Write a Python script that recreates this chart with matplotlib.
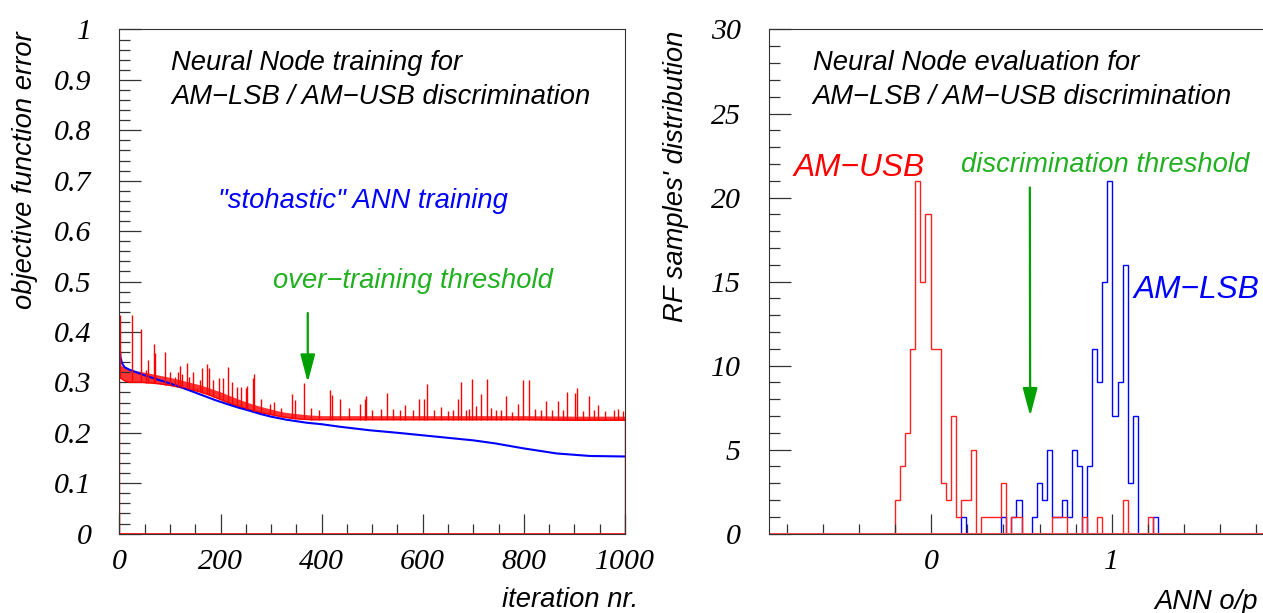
import numpy as np
import matplotlib
matplotlib.use("Agg")
import matplotlib.pyplot as plt
from matplotlib.ticker import MultipleLocator, FormatStrFormatter

# ---- left panel: objective function error vs. iteration ----
blue_iter = [0, 2, 5, 10, 20, 31, 50, 77, 100, 136, 160, 189, 210, 235, 260, 280,
             300, 330, 370, 400, 436, 495, 550, 600, 650, 700, 743, 800, 865, 931, 1000]
blue_err = [0.377, 0.35, 0.338, 0.33, 0.325, 0.321, 0.314, 0.305, 0.298, 0.285, 0.276,
            0.265, 0.258, 0.25, 0.243, 0.237, 0.232, 0.226, 0.22, 0.217, 0.212, 0.205,
            0.2, 0.195, 0.19, 0.185, 0.179, 0.169, 0.159, 0.154, 0.153]

# lower edge and top of the dense noise band of the red (validation) curve
red_iter = [0, 10, 20, 40, 60, 80, 100, 120, 140, 160, 180, 200, 220, 240, 260, 280,
            300, 320, 340, 360, 380, 400, 500, 600, 700, 800, 900, 1000]
red_low = [0.31, 0.303, 0.30, 0.30, 0.299, 0.297, 0.294, 0.29, 0.286, 0.281, 0.274,
           0.266, 0.258, 0.251, 0.245, 0.24, 0.236, 0.232, 0.229, 0.227, 0.226, 0.226,
           0.226, 0.226, 0.226, 0.226, 0.225, 0.225]
red_band = [0.335, 0.33, 0.325, 0.322, 0.318, 0.314, 0.31, 0.305, 0.3, 0.295, 0.288,
            0.281, 0.273, 0.265, 0.258, 0.252, 0.247, 0.242, 0.239, 0.237, 0.235, 0.234,
            0.234, 0.234, 0.234, 0.234, 0.233, 0.233]

# spikes of the red curve
spike_iter = [1, 25, 42, 52, 57, 68, 71, 91, 100, 110, 116, 119, 124, 133, 137, 145,
              153, 159, 164, 174, 177, 186, 197, 205, 214, 222, 233, 240, 250, 252, 265,
              267, 280, 298, 306, 320, 341, 348, 365, 378, 395, 416, 421, 437, 455, 475,
              485, 487, 500, 517, 529, 541, 555, 565, 580, 593, 603, 609, 622, 636, 650,
              660, 670, 676, 685, 692, 698, 706, 716, 728, 735, 745, 754, 764, 776, 789,
              799, 811, 823, 833, 843, 855, 868, 878, 886, 902, 906, 917, 929, 938, 947,
              960, 978, 987, 997]
spike_top = [0.434, 0.434, 0.405, 0.325, 0.344, 0.377, 0.358, 0.36, 0.321, 0.311, 0.321,
             0.333, 0.316, 0.338, 0.311, 0.32, 0.288, 0.305, 0.328, 0.336, 0.328, 0.305,
             0.308, 0.308, 0.33, 0.30, 0.29, 0.29, 0.288, 0.292, 0.308, 0.317, 0.267,
             0.258, 0.261, 0.25, 0.276, 0.265, 0.298, 0.249, 0.245, 0.285, 0.275, 0.268,
             0.25, 0.258, 0.268, 0.272, 0.245, 0.247, 0.278, 0.248, 0.246, 0.255, 0.245,
             0.267, 0.267, 0.297, 0.245, 0.252, 0.244, 0.245, 0.267, 0.30, 0.245, 0.248,
             0.306, 0.253, 0.276, 0.307, 0.25, 0.245, 0.246, 0.273, 0.242, 0.257, 0.305,
             0.304, 0.248, 0.245, 0.264, 0.245, 0.264, 0.245, 0.281, 0.278, 0.288, 0.244,
             0.272, 0.245, 0.255, 0.244, 0.245, 0.248, 0.244]

# ---- right panel: ANN output histogram, 100 bins on [-0.9, 1.9] ----
bin_lo, bin_hi, n_bins = -0.9, 1.9, 100
usb_counts = ([0] * 25 +
              [2, 4, 6, 11, 21, 15, 19, 11, 11, 3, 2, 7, 1, 2, 2, 5, 0, 1, 1, 1, 1, 3, 0,
               1, 1, 0, 0, 0, 0, 0, 0, 1, 1, 1, 0, 0, 0, 1, 0, 0, 1, 0, 0, 0, 0, 2, 0, 0,
               0, 0, 1] +
              [0] * 24)
lsb_counts = ([0] * 38 +
              [1, 0, 0, 0, 0, 0, 0, 0, 1, 0, 1, 2, 0, 0, 1, 3, 2, 5, 1, 1, 2, 1, 5, 4, 0,
               4, 11, 9, 15, 21, 7, 9, 16, 3, 7, 0, 0, 0, 1] +
              [0] * 23)

plt.rcParams["font.family"] = "Liberation Serif"
plt.rcParams["font.style"] = "italic"

SANS = dict(family="Liberation Sans", style="italic")
GREEN_TXT = "#20b020"
GREEN_ARR = "#00a000"
FRAME = "#333333"

fig = plt.figure(figsize=(12.63, 6.13), dpi=100)
axL = fig.add_axes([0.0946, 0.1295, 0.4002, 0.8224])
axR = fig.add_axes([0.6087, 0.1295, 0.4002, 0.8224])

# left panel
axL.fill_between(red_iter, red_low, red_band, color="red", alpha=0.8, lw=0)
axL.plot(red_iter, red_low, color="red", lw=1)
axL.plot(blue_iter, blue_err, color="blue", lw=1.5)
foot = np.interp(spike_iter, red_iter, red_low)
axL.vlines(spike_iter, foot, spike_top, color="red", lw=1)
axL.vlines([red_iter[0]], 0, spike_top[0], color="red", lw=1)
axL.vlines([red_iter[-1]], 0, red_low[-1], color="red", lw=1)
axL.axhline(0, color="red", lw=1.2)

axL.set_xlim(0, 1000)
axL.set_ylim(0, 1)
axL.xaxis.set_major_locator(MultipleLocator(200))
axL.xaxis.set_minor_locator(MultipleLocator(50))
axL.yaxis.set_major_locator(MultipleLocator(0.1))
axL.yaxis.set_minor_locator(MultipleLocator(0.02))
axL.yaxis.set_major_formatter(FormatStrFormatter("%g"))

axL.text(102, 0.934, "Neural Node training for", fontsize=19.7, va="center", **SANS)
axL.text(102, 0.866, "AM\u2212LSB / AM\u2212USB discrimination", fontsize=19.7,
         va="center", **SANS)
axL.text(195, 0.66, "\"stohastic\" ANN training", fontsize=19.7, va="center",
         color="blue", **SANS)
axL.text(304, 0.501, "over\u2212training threshold", fontsize=19.7, va="center",
         color=GREEN_TXT, **SANS)
axL.annotate("", xy=(372.5, 0.30), xytext=(372.5, 0.4376),
             arrowprops=dict(arrowstyle="-|>,head_length=1.7,head_width=0.45",
                             mutation_scale=10, color=GREEN_ARR, lw=1.6,
                             shrinkA=0, shrinkB=0))

# right panel
edges = np.linspace(bin_lo, bin_hi, n_bins + 1)
axR.stairs(lsb_counts, edges, color="blue", lw=1)
axR.stairs(usb_counts, edges, color="#ff2020", lw=1)
axR.axhline(0, color="#ff5050", lw=1.5)

axR.set_xlim(bin_lo, bin_hi)
axR.set_ylim(0, 30)
axR.xaxis.set_major_locator(MultipleLocator(1))
axR.xaxis.set_minor_locator(MultipleLocator(0.2))
axR.xaxis.set_major_formatter(FormatStrFormatter("%g"))
axR.yaxis.set_major_locator(MultipleLocator(5))
axR.yaxis.set_minor_locator(MultipleLocator(1))

axR.text(-0.657, 28.03, "Neural Node evaluation for", fontsize=19.7, va="center", **SANS)
axR.text(-0.657, 25.99, "AM\u2212LSB / AM\u2212USB discrimination", fontsize=19.7,
         va="center", **SANS)
axR.text(-0.763, 21.76, "AM\u2212USB", fontsize=22.8, va="center", color="red", **SANS)
axR.text(0.1635, 21.94, "discrimination threshold", fontsize=19.7, va="center",
         color=GREEN_TXT, **SANS)
axR.text(1.121, 14.5, "AM\u2212LSB", fontsize=22.8, va="center", color="blue", **SANS)
axR.annotate("", xy=(0.548, 7.0), xytext=(0.546, 20.6),
             arrowprops=dict(arrowstyle="-|>,head_length=1.7,head_width=0.45",
                             mutation_scale=10, color=GREEN_ARR, lw=1.6,
                             shrinkA=0, shrinkB=0))

for ax in (axL, axR):
    for sp in ax.spines.values():
        sp.set_color(FRAME)
        sp.set_linewidth(0.8)
    ax.tick_params(axis="both", which="both", direction="in", top=False, right=False,
                   color=FRAME, width=0.9, labelsize=21.5)
    ax.tick_params(axis="y", which="major", length=15.8, pad=20)
    ax.tick_params(axis="y", which="minor", length=8)
    ax.tick_params(axis="x", which="major", length=14.4, pad=11)
    ax.tick_params(axis="x", which="minor", length=7.2)

fig.text(25 / 1263, 1 - 31 / 613, "objective function error", rotation=90,
         ha="center", va="top", fontsize=19.7, **SANS)
fig.text(638 / 1263, 1 - 600 / 613, "iteration nr.", ha="right", va="center",
         fontsize=19.7, **SANS)
fig.text(676 / 1263, 1 - 31 / 613, "RF samples' distribution", rotation=90,
         ha="center", va="top", fontsize=19.7, **SANS)
fig.text(1258 / 1263, 1 - 602 / 613, "ANN o/p", ha="right", va="center",
         fontsize=19.7, **SANS)

fig.savefig("out.png", dpi=100)
